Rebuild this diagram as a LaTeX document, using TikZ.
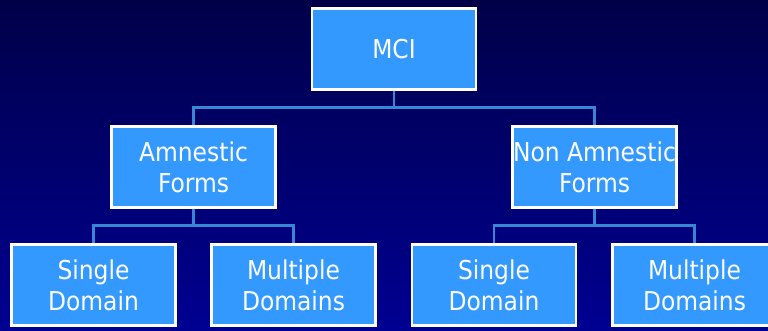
\documentclass[tikz,border=0pt]{standalone}
\usepackage{fontspec}
\setmainfont{DejaVu Sans Condensed}
\usepackage{tikz}
\usepackage{xcolor}
\usetikzlibrary{
    positioning,
    backgrounds
}
\definecolor{boxblue}{HTML}{3399FF}
\definecolor{linkblue}{HTML}{3A86D6}
\definecolor{bgtop}{HTML}{000048}
\definecolor{bgbottom}{HTML}{000092}
\tikzset{
    box/.style={draw=white, line width=2.6pt, fill=boxblue, text=white,
        minimum width=164pt, minimum height=81pt, inner sep=0pt, align=center,
        font=\fontsize{26}{31}\selectfont},
    link/.style={draw=linkblue, line width=2.8pt}
}

\begin{document}
\begin{tikzpicture}[x=1pt, y=-1pt]
                        \useasboundingbox (0, 0) rectangle (768, 331);
                        \clip (0, 0) rectangle (768, 331);
                        \node[box] (mci) at (394, 49) {MCI};
                        \node[box] (amn) at (193.5, 167) {Amnestic\\Forms};
                        \node[box] (nonamn) at (594.5, 167) {Non Amnestic\\Forms};
                        \node[box] (amnsingle) at (93.5, 285) {Single\\Domain};
                        \node[box] (amnmulti) at (293.5, 285) {Multiple\\Domains};
                        \node[box] (nonsingle) at (494, 285) {Single\\Domain};
                        \node[box] (nonmulti) at (694.5, 285) {Multiple\\Domains};

                        \begin{scope}[on background layer]
                        \shade[top color=bgtop, bottom color=bgbottom] (0, 0) rectangle (768, 331);
                        \draw[link] (mci.south) -- ++(0, 17) -| (amn.north);
                        \draw[link] (mci.south) -- ++(0, 17) -| (nonamn.north);
                        \draw[link] (amn.south) -- ++(0, 17) -| (amnsingle.north);
                        \draw[link] (amn.south) -- ++(0, 17) -| (amnmulti.north);
                        \draw[link] (nonamn.south) -- ++(0, 17) -| (nonsingle.north);
                        \draw[link] (nonamn.south) -- ++(0, 17) -| (nonmulti.north);
                        \end{scope}
                    \end{tikzpicture}
\end{document}
